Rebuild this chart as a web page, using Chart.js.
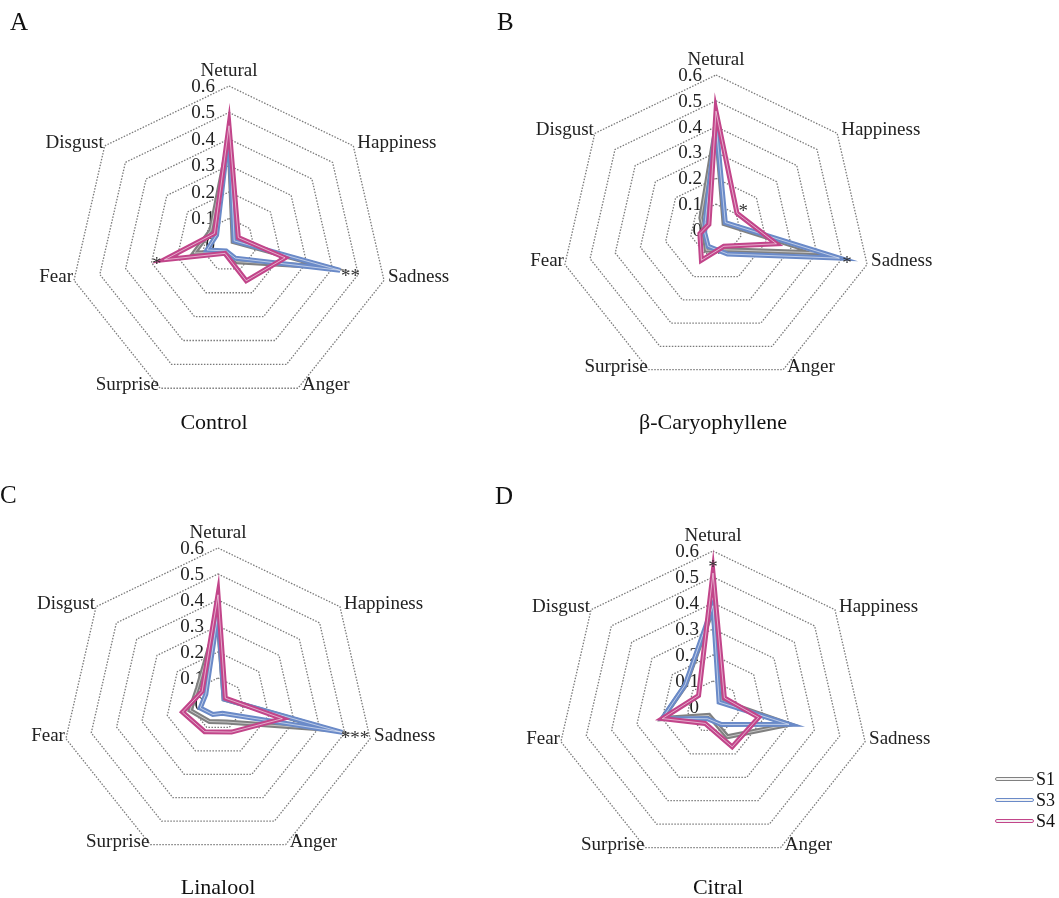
<!DOCTYPE html>
<html>
<head>
<meta charset="utf-8">
<title>Emotion radar charts</title>
<script src="https://cdn.jsdelivr.net/npm/chart.js@4.4.1/dist/chart.umd.min.js"></script>
<style>
  body { margin: 0; background: #fff; font-family: "Liberation Serif", "Times New Roman", serif; color: #111; }
  #page { position: relative; width: 1059px; height: 898px; overflow: hidden; }
  .panel { position: absolute; }
  .panel canvas { position: absolute; left: 0; top: 0; }
  .letter { position: absolute; font-size: 25px; line-height: 1; }
  .sub { position: absolute; font-size: 22px; line-height: 1; white-space: nowrap; transform: translateX(-50%); }
  .legend { position: absolute; left: 995px; top: 769px; font-size: 18px; }
  .legend .item { position: relative; height: 21px; line-height: 21px; }
  .legend .swatch { position: absolute; left: 0; top: 8px; width: 37px; height: 2px; border-radius: 3px; background: #f2f2f2; }
  .legend .name { position: absolute; left: 41px; top: 0; }
</style>
</head>
<body>
<div id="page"></div>
<script>
// categories (axes), clockwise from the top
const emotions = ['Netural', 'Happiness', 'Sadness', 'Anger', 'Surprise', 'Fear', 'Disgust'];
const seriesNames = ['S1', 'S3', 'S4'];
const tickValues = [0, 0.1, 0.2, 0.3, 0.4, 0.5, 0.6];
const tickLabels = ['0', '0.1', '0.2', '0.3', '0.4', '0.5', '0.6'];

const panelLetters = ['A', 'B', 'C', 'D'];
const panelNames = ['Control', 'β-Caryophyllene', 'Linalool', 'Citral'];

// values
const controlS1 = [0.40, 0.02, 0.375, 0.07, 0.03, 0.135, 0.088];
const controlS3 = [0.43, 0.025, 0.43, 0.055, 0.025, 0.085, 0.06];
const controlS4 = [0.45, 0.045, 0.217, 0.15, 0.035, 0.25, 0.07];

const caryS1 = [0.40, 0.04, 0.395, 0.085, 0.087, 0.047, 0.075];
const caryS3 = [0.41, 0.046, 0.49, 0.103, 0.07, 0.045, 0.053];
const caryS4 = [0.46, 0.104, 0.24, 0.07, 0.13, 0.064, 0.035];

const linaloolS1 = [0.33, 0.03, 0.44, 0.077, 0.075, 0.11, 0.10];
const linaloolS3 = [0.35, 0.03, 0.49, 0.04, 0.045, 0.07, 0.06];
const linaloolS4 = [0.42, 0.036, 0.254, 0.12, 0.118, 0.14, 0.078];

const citralS1 = [0.38, 0.04, 0.30, 0.127, 0.036, 0.20, 0.135];
const citralS3 = [0.39, 0.03, 0.30, 0.075, 0.05, 0.20, 0.137];
const citralS4 = [0.515, 0.056, 0.18, 0.17, 0.07, 0.20, 0.071];

// significance marks: axis index, value along that axis, text
const controlStars = [[5, 0.28, '*'], [2, 0.47, '**']];
const caryStars = [[1, 0.135, '*'], [2, 0.52, '*']];
const linaloolStars = [[2, 0.54, '***']];
const citralStars = [[0, 0.55, '*']];

const panelData = [
  [controlS1, controlS3, controlS4],
  [caryS1, caryS3, caryS4],
  [linaloolS1, linaloolS3, linaloolS4],
  [citralS1, citralS3, citralS4]
];
const panelStars = [controlStars, caryStars, linaloolStars, citralStars];

const colors = ['#808080', '#6a8ac8', '#c2458a'];

// panel boxes and radar centre (page coordinates) with radius
const layout = [
  { left: 0, top: 0, w: 519, h: 449, cx: 229, cy: 245, r: 159 },
  { left: 519, top: 0, w: 540, h: 449, cx: 716, cy: 230, r: 155 },
  { left: 0, top: 449, w: 519, h: 449, cx: 218, cy: 704, r: 156 },
  { left: 519, top: 449, w: 540, h: 449, cx: 713, cy: 707, r: 156 }
];
const letterPos = [[10, 9], [497, 9], [0, 482], [495, 483]];
const subPos = [[214, 411], [713, 411], [218, 876], [718, 876]];

const FONT = '"Liberation Serif", "Times New Roman", serif';

const decorate = {
  id: 'decorate',
  beforeDatasetsDraw(chart) {
    const s = chart.scales.r;
    const ctx = chart.ctx;
    ctx.save();
    ctx.font = '19px ' + FONT;
    ctx.fillStyle = '#222';
    ctx.textAlign = 'right';
    ctx.textBaseline = 'middle';
    tickValues.forEach((v, i) => {
      const y = s.yCenter - s.getDistanceFromCenterForValue(v);
      ctx.fillText(tickLabels[i], s.xCenter - 14, y + 1);
    });
    ctx.restore();
  },
  afterDatasetsDraw(chart, args, opts) {
    const s = chart.scales.r;
    const ctx = chart.ctx;
    ctx.save();
    ctx.font = '19px ' + FONT;
    ctx.fillStyle = '#222';
    ctx.textBaseline = 'middle';
    emotions.forEach((name, i) => {
      const p = s.getPointPosition(i, s.drawingArea);
      if (i === 0) {
        ctx.textAlign = 'center';
        ctx.fillText(name, p.x, p.y - 15);
      } else if (p.x > s.xCenter) {
        ctx.textAlign = 'left';
        ctx.fillText(name, p.x + 4, p.y - 3);
      } else {
        ctx.textAlign = 'right';
        ctx.fillText(name, p.x - 1, p.y - 3);
      }
    });
    ctx.textAlign = 'center';
    ctx.fillStyle = '#333';
    (opts.stars || []).forEach(st => {
      const p = s.getPointPositionForValue(st[0], st[1]);
      ctx.fillText(st[2], p.x, p.y + 4);
    });
    ctx.restore();
  }
};

const page = document.getElementById('page');

layout.forEach((L, k) => {
  const div = document.createElement('div');
  div.className = 'panel';
  div.style.left = L.left + 'px';
  div.style.top = L.top + 'px';
  const canvas = document.createElement('canvas');
  canvas.width = L.w;
  canvas.height = L.h;
  div.appendChild(canvas);
  page.appendChild(div);

  const cx = L.cx - L.left;
  const cy = L.cy - L.top;

  // pink drawn last (on top): Chart.js paints datasets from last to first
  const datasets = [];
  for (let j = 2; j >= 0; j--) {
    datasets.push({
      label: seriesNames[j] + ' inner',
      data: panelData[k][j],
      borderColor: 'rgba(255,255,255,0.55)',
      borderWidth: 1,
      pointRadius: 0,
      fill: false
    });
    datasets.push({
      label: seriesNames[j],
      data: panelData[k][j],
      borderColor: colors[j],
      borderWidth: 5,
      pointRadius: 0,
      fill: false
    });
  }

  new Chart(canvas.getContext('2d'), {
    type: 'radar',
    data: { labels: emotions, datasets: datasets },
    options: {
      responsive: false,
      animation: false,
      layout: {
        padding: {
          left: cx - L.r,
          right: L.w - cx - L.r,
          top: cy - L.r,
          bottom: L.h - cy - L.r
        }
      },
      elements: { line: { tension: 0, borderJoinStyle: 'miter' } },
      scales: {
        r: {
          min: 0,
          max: 0.6,
          ticks: { display: false, stepSize: 0.1 },
          angleLines: { display: false },
          pointLabels: { display: false },
          grid: { color: '#7a7a7a', lineWidth: 1.3 },
          border: { dash: [1.5, 1.5] }
        }
      },
      plugins: {
        legend: { display: false },
        tooltip: { enabled: false },
        decorate: { stars: panelStars[k] }
      }
    },
    plugins: [decorate]
  });

  const letter = document.createElement('div');
  letter.className = 'letter';
  letter.textContent = panelLetters[k];
  letter.style.left = letterPos[k][0] + 'px';
  letter.style.top = letterPos[k][1] + 'px';
  page.appendChild(letter);

  const sub = document.createElement('div');
  sub.className = 'sub';
  sub.textContent = panelNames[k];
  sub.style.left = subPos[k][0] + 'px';
  sub.style.top = subPos[k][1] + 'px';
  page.appendChild(sub);
});

// legend
const legend = document.createElement('div');
legend.className = 'legend';
seriesNames.forEach((n, j) => {
  const item = document.createElement('div');
  item.className = 'item';
  const sw = document.createElement('div');
  sw.className = 'swatch';
  sw.style.border = '1.5px solid ' + colors[j];
  const name = document.createElement('div');
  name.className = 'name';
  name.textContent = n;
  item.appendChild(sw);
  item.appendChild(name);
  legend.appendChild(item);
});
page.appendChild(legend);
</script>
</body>
</html>
